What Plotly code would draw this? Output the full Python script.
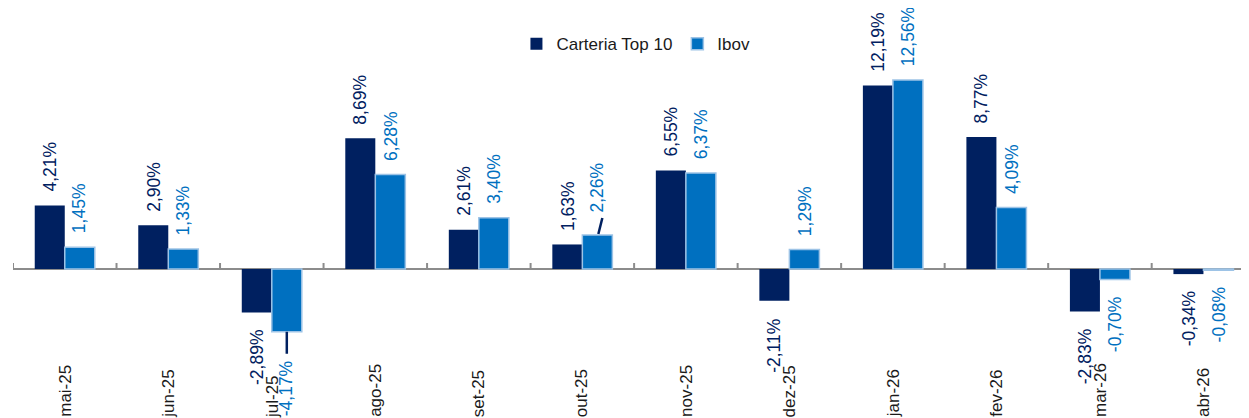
import plotly.graph_objects as go

categories = ["mai-25", "jun-25", "jul-25", "ago-25", "set-25", "out-25",
              "nov-25", "dez-25", "jan-26", "fev-26", "mar-26", "abr-26"]
carteria = [4.21, 2.90, -2.89, 8.69, 2.61, 1.63, 6.55, -2.11, 12.19, 8.77, -2.83, -0.34]
ibov = [1.45, 1.33, -4.17, 6.28, 3.40, 2.26, 6.37, 1.29, 12.56, 4.09, -0.70, -0.08]

NAVY = "#002060"
BLUE = "#0070C0"
BORDER = "#9DC3E6"
FONT = "Liberation Sans"
VAL_SIZE = 17.5
CAT_SIZE = 17

# approximate Arial/Liberation Sans advance widths (em) to centre rotated labels
_W = {c: 0.556 for c in "0123456789abdegnopqu"}
_W.update({",": 0.278, "%": 0.889, "-": 0.333, "i": 0.222, "j": 0.222, "l": 0.222,
           "m": 0.833, "r": 0.333, "s": 0.5, "t": 0.278, "v": 0.5, "z": 0.5, "f": 0.278})

def text_len(s, size):
    return sum(_W.get(c, 0.556) for c in s) * size

def fmt(v):
    return f"{v:.2f}%".replace(".", ",")

x_idx = list(range(len(categories)))
fig = go.Figure()
fig.add_bar(x=x_idx, y=carteria, name="Carteria Top 10",
            marker=dict(color=NAVY, line=dict(color=NAVY, width=0)))
fig.add_bar(x=x_idx, y=ibov, name="Ibov",
            marker=dict(color=BLUE, line=dict(color=BORDER, width=1.5)))

W = 0.29  # width of one bar in category units
POS_GAP = 14
NEG_GAP = 17
# custom gaps for crowded labels
gaps = {("ibov", 2): 29, ("ibov", 5): 23}
anns = []
for series, vals, col, dx in (("cart", carteria, NAVY, -W / 2), ("ibov", ibov, BLUE, W / 2)):
    for i, v in enumerate(vals):
        t = fmt(v)
        half = text_len(t, VAL_SIZE) / 2
        g = gaps.get((series, i), POS_GAP if v >= 0 else NEG_GAP)
        shift = (g + half) if v >= 0 else -(g + half)
        anns.append(dict(x=i + dx, y=v, xref="x", yref="y", text=t, textangle=-90,
                         showarrow=False, xanchor="center", yanchor="middle",
                         yshift=shift, font=dict(family=FONT, size=VAL_SIZE, color=col)))
for i, c in enumerate(categories):
    anns.append(dict(x=i, y=0, xref="x", yref="paper", text=c, textangle=-90, showarrow=False,
                     xanchor="center", yanchor="middle",
                     yshift=text_len(c, CAT_SIZE) / 2 + 1,
                     font=dict(family=FONT, size=CAT_SIZE, color="#1a1a1a")))

shapes = []
# upward tick marks at category boundaries on the zero line
for i in range(len(categories) + 1):
    shapes.append(dict(type="line", xref="x", yref="y", x0=i - 0.5, x1=i - 0.5,
                       ysizemode="pixel", yanchor=0, y0=0, y1=6,
                       line=dict(color="#8c8c8c", width=2)))
# leader lines
shapes.append(dict(type="line", xref="x", yref="y", xsizemode="pixel", xanchor=5 + W / 2,
                   x0=1, x1=5, ysizemode="pixel", yanchor=ibov[5], y0=1, y1=17,
                   line=dict(color=NAVY, width=2.5)))
shapes.append(dict(type="line", xref="x", yref="y", xsizemode="pixel", xanchor=2 + W / 2,
                   x0=0, x1=0, ysizemode="pixel", yanchor=ibov[2], y0=0, y1=-22,
                   line=dict(color=NAVY, width=2.5)))

fig.update_layout(
    width=1241, height=410,
    margin=dict(l=5, r=0, t=0, b=0),
    paper_bgcolor="white", plot_bgcolor="white",
    barmode="group", bargap=0.42, bargroupgap=0,
    showlegend=True,
    legend=dict(orientation="h", x=0.504, xanchor="center", y=0.912, yanchor="middle",
                font=dict(family=FONT, size=17, color="#1a1a1a"), bgcolor="rgba(0,0,0,0)"),
    xaxis=dict(range=[-0.5, 11.44], showticklabels=False, showgrid=False, zeroline=False,
               showline=False, ticks=""),
    yaxis=dict(range=[-9.90, 17.34], showticklabels=False, showgrid=False, zeroline=True,
               zerolinecolor="#8c8c8c", zerolinewidth=2, showline=False, ticks=""),
    annotations=anns, shapes=shapes,
    font=dict(family=FONT),
)

fig.write_html("out.html")
